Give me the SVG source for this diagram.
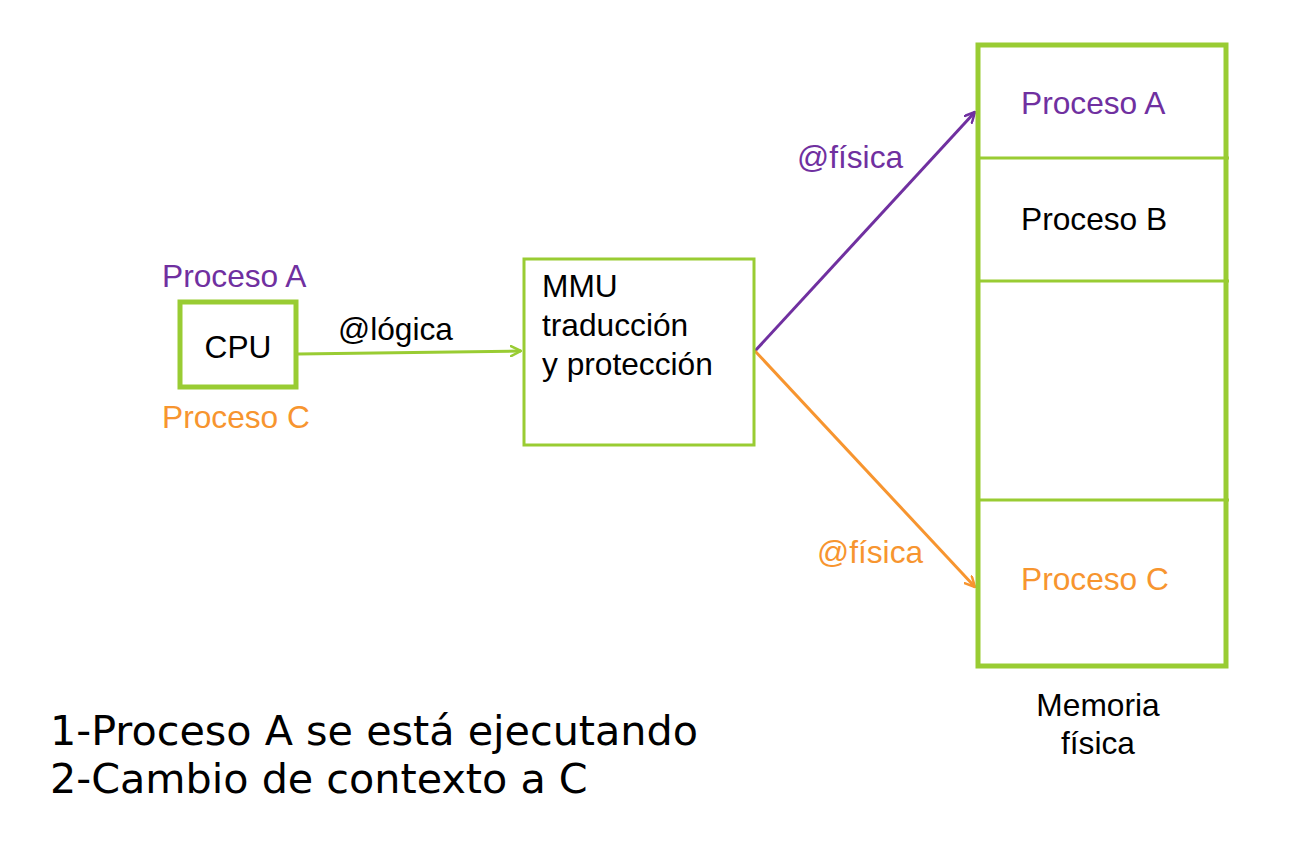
<svg xmlns="http://www.w3.org/2000/svg" width="1298" height="858" viewBox="0 0 1298 858">
<style>
.t{font-family:"Liberation Sans",Arial,sans-serif;font-size:31.7px;fill:#000}
.p{fill:#7030A0}
.o{fill:#F7952F}
.box{fill:#fff;stroke:#99CC33}
.big{font-family:"DejaVu Sans",Verdana,sans-serif;font-size:41.3px;fill:#000}
</style>
<defs>
<marker id="ag" viewBox="0 0 12 12" refX="11" refY="6" markerWidth="12" markerHeight="12" markerUnits="userSpaceOnUse" orient="auto"><path d="M1,1 L11,6 L1,11" fill="none" stroke="#99CC33" stroke-width="2.5" stroke-linecap="round" stroke-linejoin="round"/></marker>
<marker id="ap" viewBox="0 0 12 12" refX="11" refY="6" markerWidth="12" markerHeight="12" markerUnits="userSpaceOnUse" orient="auto"><path d="M1,1 L11,6 L1,11" fill="none" stroke="#7030A0" stroke-width="2.5" stroke-linecap="round" stroke-linejoin="round"/></marker>
<marker id="ao" viewBox="0 0 12 12" refX="11" refY="6" markerWidth="12" markerHeight="12" markerUnits="userSpaceOnUse" orient="auto"><path d="M1,1 L11,6 L1,11" fill="none" stroke="#F7952F" stroke-width="2.5" stroke-linecap="round" stroke-linejoin="round"/></marker>
</defs>
<rect width="1298" height="858" fill="#fff"/>
<g id="connectors" fill="none" stroke-width="3">
<line x1="298" y1="354" x2="521" y2="351" stroke="#99CC33" marker-end="url(#ag)"/>
<line x1="755" y1="351" x2="975" y2="112" stroke="#7030A0" marker-end="url(#ap)"/>
<line x1="755" y1="351" x2="975" y2="587" stroke="#F7952F" marker-end="url(#ao)"/>
</g>
<g id="cpu">
<rect class="box" x="180" y="302" width="116" height="85" stroke-width="5"/>
<text class="t" x="238" y="358" text-anchor="middle">CPU</text>
<text class="t p" x="162" y="287">Proceso A</text>
<text class="t o" x="162" y="428">Proceso C</text>
</g>
<g id="label-logica"><text class="t" x="338" y="340">@lógica</text></g>
<g id="mmu">
<rect class="box" x="524" y="259" width="230" height="186" stroke-width="3"/>
<text class="t" x="542" y="297">MMU</text>
<text class="t" x="542" y="336">traducción</text>
<text class="t" x="542" y="375">y protección</text>
</g>
<g id="label-fisica-a"><text class="t p" x="797" y="168">@física</text></g>
<g id="label-fisica-c"><text class="t o" x="817" y="563">@física</text></g>
<g id="memoria">
<rect class="box" x="978" y="45" width="248" height="621" stroke-width="5"/>
<line x1="978" y1="158" x2="1229" y2="158" stroke="#99CC33" stroke-width="3"/>
<line x1="978" y1="281" x2="1229" y2="281" stroke="#99CC33" stroke-width="3"/>
<line x1="978" y1="500" x2="1229" y2="500" stroke="#99CC33" stroke-width="3"/>
<text class="t p" x="1021" y="114">Proceso A</text>
<text class="t" x="1021" y="230">Proceso B</text>
<text class="t o" x="1021" y="590">Proceso C</text>
<text class="t" x="1098" y="716" text-anchor="middle">Memoria</text>
<text class="t" x="1098" y="754" text-anchor="middle">física</text>
</g>
<g id="notes">
<text class="big" x="50" y="745">1-Proceso A se está ejecutando</text>
<text class="big" x="50" y="793">2-Cambio de contexto a C</text>
</g>
</svg>
